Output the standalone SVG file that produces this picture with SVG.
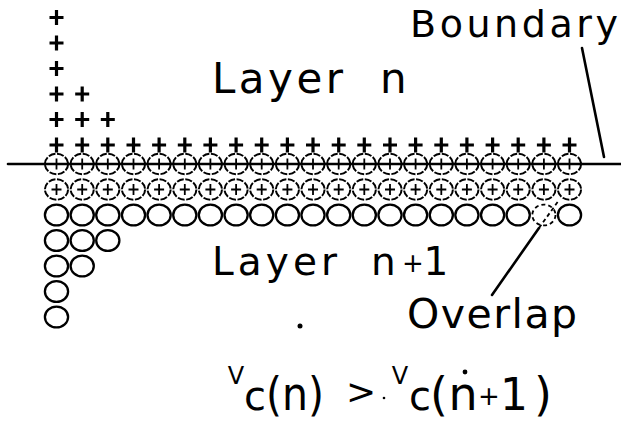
<svg xmlns="http://www.w3.org/2000/svg" width="621" height="425" viewBox="0 0 621 425">
<style>
.bg{fill:#fff}
.plus{stroke:#000;stroke-width:3.2;fill:none;stroke-linecap:butt}
.ring{stroke:#000;stroke-width:2.3;fill:none}
.ringd{stroke:#000;stroke-width:2;fill:none;stroke-dasharray:7 1.6}
.iplus{stroke:#000;stroke-width:1.8;fill:none}
.ln{stroke:#000;stroke-width:2.6;fill:none;stroke-linecap:round}
.dash{stroke:#000;stroke-width:1.8;fill:none;stroke-dasharray:4 3}
.t{font-family:"DejaVu Sans","Liberation Sans",sans-serif;fill:#000}
</style>
<defs>
<path id="p" class="plus" d="M-7 0H7M0-7.5V7.5"/>
<g id="cp"><ellipse class="ringd" rx="11.6" ry="10.2"/><path class="iplus" d="M-5 0H5M0-5.5V5.5"/></g>
<ellipse id="c" class="ring" rx="11.6" ry="10.4"/>
</defs>
<rect class="bg" width="621" height="425"/>

<g id="layer-n-charges">
<use href="#p" x="56.5" y="17.5"/><use href="#p" x="56.5" y="43"/><use href="#p" x="56.5" y="68.5"/><use href="#p" x="56.5" y="94"/><use href="#p" x="56.5" y="119.5"/>
<use href="#p" x="82.2" y="94"/><use href="#p" x="82.2" y="119.5"/>
<use href="#p" x="107.8" y="119.5"/>
<use href="#p" x="56.5" y="145"/><use href="#p" x="82.2" y="145"/><use href="#p" x="107.8" y="145"/><use href="#p" x="133.5" y="145"/><use href="#p" x="159.1" y="145"/><use href="#p" x="184.8" y="145"/><use href="#p" x="210.4" y="145"/><use href="#p" x="236.1" y="145"/><use href="#p" x="261.7" y="145"/><use href="#p" x="287.4" y="145"/><use href="#p" x="313" y="145"/><use href="#p" x="338.7" y="145"/><use href="#p" x="364.3" y="145"/><use href="#p" x="390" y="145"/><use href="#p" x="415.6" y="145"/><use href="#p" x="441.3" y="145"/><use href="#p" x="466.9" y="145"/><use href="#p" x="492.6" y="145"/><use href="#p" x="518.2" y="145"/><use href="#p" x="543.9" y="145"/><use href="#p" x="569.5" y="145"/>
</g>

<g id="boundary-line">
<line class="ln" x1="8" y1="164" x2="621" y2="164"/>
</g>

<g id="mixed-rows">
<use href="#cp" x="56.5" y="164"/><use href="#cp" x="82.2" y="164"/><use href="#cp" x="107.8" y="164"/><use href="#cp" x="133.5" y="164"/><use href="#cp" x="159.1" y="164"/><use href="#cp" x="184.8" y="164"/><use href="#cp" x="210.4" y="164"/><use href="#cp" x="236.1" y="164"/><use href="#cp" x="261.7" y="164"/><use href="#cp" x="287.4" y="164"/><use href="#cp" x="313" y="164"/><use href="#cp" x="338.7" y="164"/><use href="#cp" x="364.3" y="164"/><use href="#cp" x="390" y="164"/><use href="#cp" x="415.6" y="164"/><use href="#cp" x="441.3" y="164"/><use href="#cp" x="466.9" y="164"/><use href="#cp" x="492.6" y="164"/><use href="#cp" x="518.2" y="164"/><use href="#cp" x="543.9" y="164"/><use href="#cp" x="569.5" y="164"/>
<use href="#cp" x="56.5" y="189.5"/><use href="#cp" x="82.2" y="189.5"/><use href="#cp" x="107.8" y="189.5"/><use href="#cp" x="133.5" y="189.5"/><use href="#cp" x="159.1" y="189.5"/><use href="#cp" x="184.8" y="189.5"/><use href="#cp" x="210.4" y="189.5"/><use href="#cp" x="236.1" y="189.5"/><use href="#cp" x="261.7" y="189.5"/><use href="#cp" x="287.4" y="189.5"/><use href="#cp" x="313" y="189.5"/><use href="#cp" x="338.7" y="189.5"/><use href="#cp" x="364.3" y="189.5"/><use href="#cp" x="390" y="189.5"/><use href="#cp" x="415.6" y="189.5"/><use href="#cp" x="441.3" y="189.5"/><use href="#cp" x="466.9" y="189.5"/><use href="#cp" x="492.6" y="189.5"/><use href="#cp" x="518.2" y="189.5"/><use href="#cp" x="543.9" y="189.5"/><use href="#cp" x="569.5" y="189.5"/>
</g>

<g id="layer-n1-circles">
<use href="#c" x="56.5" y="215"/><use href="#c" x="82.2" y="215"/><use href="#c" x="107.8" y="215"/><use href="#c" x="133.5" y="215"/><use href="#c" x="159.1" y="215"/><use href="#c" x="184.8" y="215"/><use href="#c" x="210.4" y="215"/><use href="#c" x="236.1" y="215"/><use href="#c" x="261.7" y="215"/><use href="#c" x="287.4" y="215"/><use href="#c" x="313" y="215"/><use href="#c" x="338.7" y="215"/><use href="#c" x="364.3" y="215"/><use href="#c" x="390" y="215"/><use href="#c" x="415.6" y="215"/><use href="#c" x="441.3" y="215"/><use href="#c" x="466.9" y="215"/><use href="#c" x="492.6" y="215"/><use href="#c" x="518.2" y="215"/>
<ellipse class="dash" cx="543.9" cy="215" rx="11.6" ry="10.4"/>
<use href="#c" x="569.5" y="215"/>
<use href="#c" x="56.5" y="240.5"/><use href="#c" x="82.2" y="240.5"/><use href="#c" x="107.8" y="240.5"/>
<use href="#c" x="56.5" y="266"/><use href="#c" x="82.2" y="266"/>
<use href="#c" x="56.5" y="291.5"/>
<use href="#c" x="56.5" y="317"/>
</g>

<g id="connectors">
<line class="ln" x1="582" y1="48" x2="604" y2="157"/>
<line class="ln" x1="492" y1="295" x2="539" y2="228"/>
<line class="dash" x1="539" y1="228" x2="559" y2="200"/>
</g>

<g id="labels">
<text class="t" x="410" y="37" font-size="38" textLength="208" lengthAdjust="spacing">Boundary</text>
<text class="t" x="212" y="93" font-size="42"><tspan textLength="131" lengthAdjust="spacing">Layer</tspan><tspan x="380">n</tspan></text>
<text class="t" y="275" font-size="39"><tspan x="212" textLength="125" lengthAdjust="spacing">Layer</tspan><tspan x="371">n</tspan><tspan x="413" y="272" font-size="26" text-anchor="middle">+</tspan><tspan x="436" y="275" text-anchor="middle">1</tspan></text>
<text class="t" x="407" y="328" font-size="41" textLength="170" lengthAdjust="spacing">Overlap</text>
</g>

<g id="formula">
<text class="t" text-anchor="middle" font-size="46"><tspan x="236" y="384" font-size="24">V</tspan><tspan x="255" y="410" font-size="40">c</tspan><tspan x="266" y="410" text-anchor="start" textLength="58" lengthAdjust="spacingAndGlyphs">(n)</tspan><tspan x="361" y="404" font-size="36">&gt;</tspan><tspan x="400" y="384" font-size="24">V</tspan><tspan x="420" y="410" font-size="40">c</tspan><tspan x="439" y="410">(</tspan><tspan x="463" y="410">n</tspan><tspan x="489" y="405" font-size="26">+</tspan><tspan x="514" y="410" font-size="44">1</tspan><tspan x="543" y="410">)</tspan></text>
</g>

<g id="marks">
<circle cx="465" cy="372" r="2.4"/>
<circle cx="384" cy="398" r="1.3"/>
<circle cx="300" cy="326" r="2.5"/>
</g>
</svg>
